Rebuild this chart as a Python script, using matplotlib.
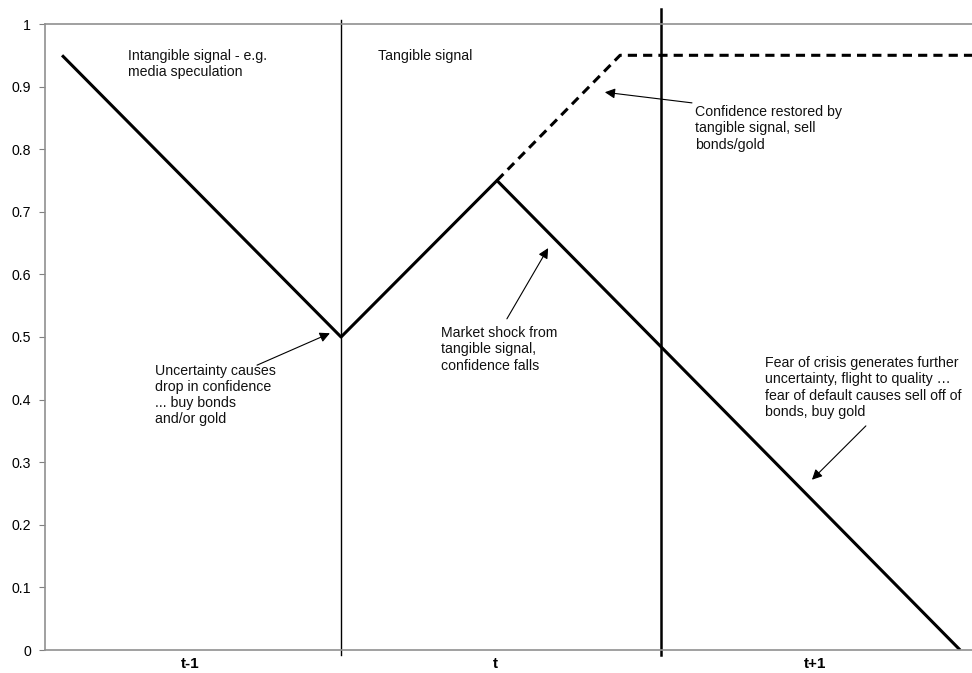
import matplotlib
matplotlib.use("Agg")
import matplotlib.pyplot as plt

plt.rcParams['font.family'] = ['Liberation Sans', 'DejaVu Sans']

# main confidence path (solid) and the alternative path (dashed)
main_x = [0.055, 0.955, 1.458, 2.952]
main_y = [0.95, 0.50, 0.75, 0.0]
alt_x = [1.458, 1.855, 3.0]
alt_y = [0.75, 0.95, 0.95]

# period boundaries and labels
bounds = [0.955, 1.987]
period_pos = [0.468, 1.452, 2.484]
period_labels = ['t-1', 't', 't+1']
yticks = [0, 0.1, 0.2, 0.3, 0.4, 0.5, 0.6, 0.7, 0.8, 0.9, 1]
ytick_labels = ['0', '0.1', '0.2', '0.3', '0.4', '0.5', '0.6', '0.7', '0.8', '0.9', '1']

# notes: text, text position, arrow tail, arrow head
notes = [
    ("Intangible signal - e.g.\nmedia speculation", (0.268, 0.960), None, None),
    ("Tangible signal", (1.074, 0.960), None, None),
    ("Confidence restored by\ntangible signal, sell\nbonds/gold", (2.097, 0.870),
     (2.087, 0.874), (1.806, 0.891)),
    ("Market shock from\ntangible signal,\nconfidence falls", (1.277, 0.517),
     (1.490, 0.529), (1.623, 0.642)),
    ("Uncertainty causes\ndrop in confidence\n... buy bonds\nand/or gold", (0.355, 0.457),
     (0.684, 0.455), (0.919, 0.506)),
    ("Fear of crisis generates further\nuncertainty, flight to quality \u2026\nfear of default causes sell off of\nbonds, buy gold",
     (2.323, 0.469), (2.648, 0.358), (2.474, 0.272)),
]

fig = plt.figure(figsize=(9.72, 6.73), dpi=100)
ax = fig.add_axes([45 / 972, 23 / 673, 927 / 972, 626 / 673])

ax.plot(main_x, main_y, color='black', lw=2.2, solid_capstyle='butt')
ax.plot(alt_x, alt_y, color='black', lw=2.2, ls=(0, (3, 2)))

ax.plot([bounds[0], bounds[0]], [-0.008, 1.006], color='black', lw=1.0, clip_on=False)
ax.plot([bounds[1], bounds[1]], [-0.008, 1.024], color='black', lw=1.8, clip_on=False)

for txt, pos, tail, head in notes:
    ax.text(pos[0], pos[1], txt, fontsize=10.2, ha='left', va='top', linespacing=1.19,
            color='#111111')
    if tail is not None:
        ax.annotate('', xy=head, xytext=tail,
                    arrowprops=dict(arrowstyle='-|>', color='black', lw=0.8,
                                    mutation_scale=15, shrinkA=0, shrinkB=0))

ax.set_xlim(0, 927 / 310)
ax.set_ylim(0, 1)
ax.set_yticks(yticks)
ax.set_yticklabels(ytick_labels, fontsize=10.2)
ax.set_xticks(period_pos)
ax.set_xticklabels(period_labels, fontsize=11, fontweight='bold')
ax.tick_params(axis='x', length=0, pad=5)
ax.tick_params(axis='y', length=4, color='#808080', pad=6)

for side in ['left', 'bottom', 'top']:
    ax.spines[side].set_color('#909090')
    ax.spines[side].set_linewidth(1.2)
ax.spines['right'].set_visible(False)

fig.savefig('out.png', dpi=100)
